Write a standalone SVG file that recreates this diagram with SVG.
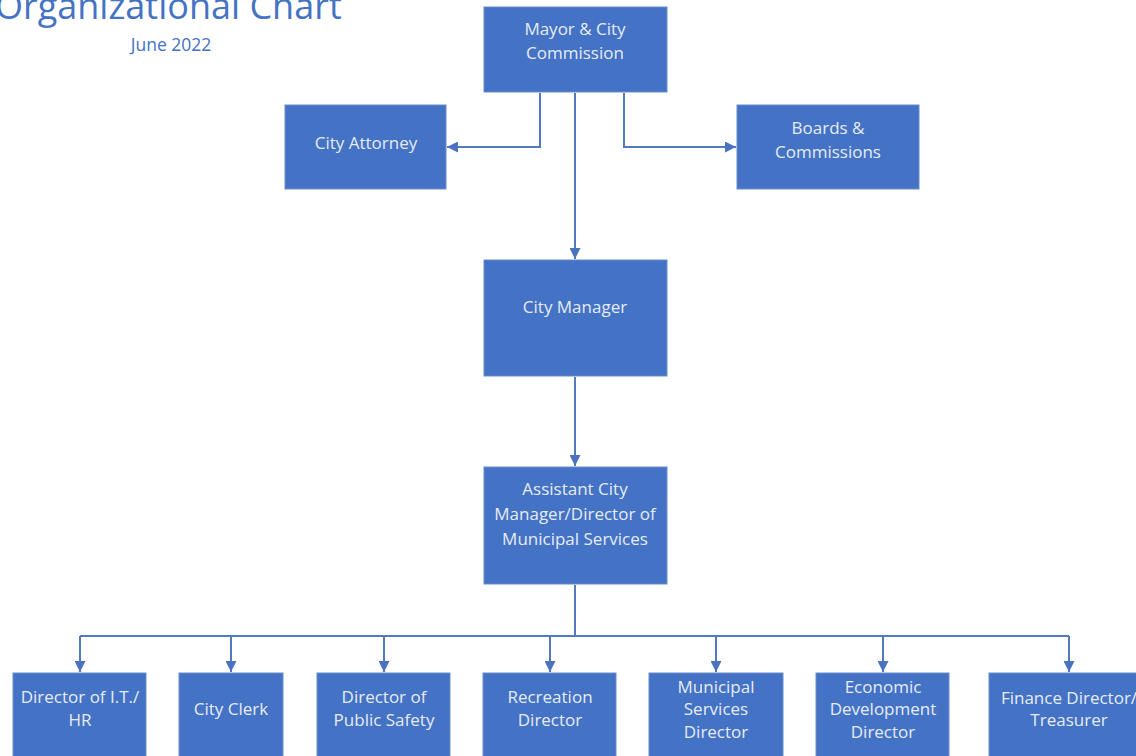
<svg xmlns="http://www.w3.org/2000/svg" width="1136" height="756" viewBox="0 0 1136 756">
<defs>
<marker id="ah" viewBox="0 0 10 10" refX="10" refY="5" markerWidth="11" markerHeight="11" markerUnits="userSpaceOnUse" orient="auto">
<path d="M0,0 L10,5 L0,10 z" fill="#4A72BE"/>
</marker>
<style>
.box{fill:#4472C4;stroke:#6A8CCB;stroke-width:1}
.t{font-family:"Open Sans","Liberation Sans",sans-serif;font-size:17px;fill:#E6ECF7;text-anchor:middle;dominant-baseline:central}
.c{fill:none;stroke:#5379C0;stroke-width:2}
</style>
</defs>
<rect width="1136" height="756" fill="#FFFFFF"/>
<g id="title">
<text x="-5" y="19" font-family="'Open Sans','Liberation Sans',sans-serif" font-size="36" fill="#4472C4">Organizational Chart</text>
<text x="171" y="44" class="t" style="fill:#4472C4;font-size:17.5px">June 2022</text>
</g>
<g id="connectors">
<path class="c" d="M540,93 V147 H447" marker-end="url(#ah)"/>
<path class="c" d="M624,93 V147 H736" marker-end="url(#ah)"/>
<path class="c" d="M575,93 V259" marker-end="url(#ah)"/>
<path class="c" d="M575,377 V466" marker-end="url(#ah)"/>
<path class="c" d="M575,585 V636"/>
<path class="c" d="M80,636 H1069"/>
<path class="c" d="M80,636 V672" marker-end="url(#ah)"/>
<path class="c" d="M231,636 V672" marker-end="url(#ah)"/>
<path class="c" d="M384,636 V672" marker-end="url(#ah)"/>
<path class="c" d="M550,636 V672" marker-end="url(#ah)"/>
<path class="c" d="M716,636 V672" marker-end="url(#ah)"/>
<path class="c" d="M883,636 V672" marker-end="url(#ah)"/>
<path class="c" d="M1069,636 V672" marker-end="url(#ah)"/>
</g>
<g id="mayor"><rect class="box" x="484" y="7" width="183" height="85"/><text class="t" x="575" y="28">Mayor &amp; City</text><text class="t" x="575" y="52">Commission</text></g>
<g id="attorney"><rect class="box" x="285" y="105" width="161" height="84"/><text class="t" x="366" y="142">City Attorney</text></g>
<g id="boards"><rect class="box" x="737" y="105" width="182" height="84"/><text class="t" x="828" y="127">Boards &amp;</text><text class="t" x="828" y="151">Commissions</text></g>
<g id="manager"><rect class="box" x="484" y="260" width="183" height="116"/><text class="t" x="575" y="306">City Manager</text></g>
<g id="assistant"><rect class="box" x="484" y="467" width="183" height="117"/><text class="t" x="575" y="488">Assistant City</text><text class="t" x="575" y="513">Manager/Director of</text><text class="t" x="575" y="538">Municipal Services</text></g>
<g id="it"><rect class="box" x="13" y="673" width="133" height="90"/><text class="t" x="80" y="696">Director of I.T./</text><text class="t" x="80" y="719">HR</text></g>
<g id="clerk"><rect class="box" x="179" y="673" width="104" height="90"/><text class="t" x="231" y="708">City Clerk</text></g>
<g id="safety"><rect class="box" x="317" y="673" width="133" height="90"/><text class="t" x="384" y="696">Director of</text><text class="t" x="384" y="719">Public Safety</text></g>
<g id="recreation"><rect class="box" x="483" y="673" width="133" height="90"/><text class="t" x="550" y="696">Recreation</text><text class="t" x="550" y="719">Director</text></g>
<g id="municipal"><rect class="box" x="649" y="673" width="134" height="90"/><text class="t" x="716" y="686">Municipal</text><text class="t" x="716" y="708">Services</text><text class="t" x="716" y="731">Director</text></g>
<g id="economic"><rect class="box" x="816" y="673" width="133" height="90"/><text class="t" x="883" y="686">Economic</text><text class="t" x="883" y="708">Development</text><text class="t" x="883" y="731">Director</text></g>
<g id="finance"><rect class="box" x="989" y="673" width="162" height="90"/><text class="t" x="1069" y="697">Finance Director/</text><text class="t" x="1069" y="719">Treasurer</text></g>
</svg>
